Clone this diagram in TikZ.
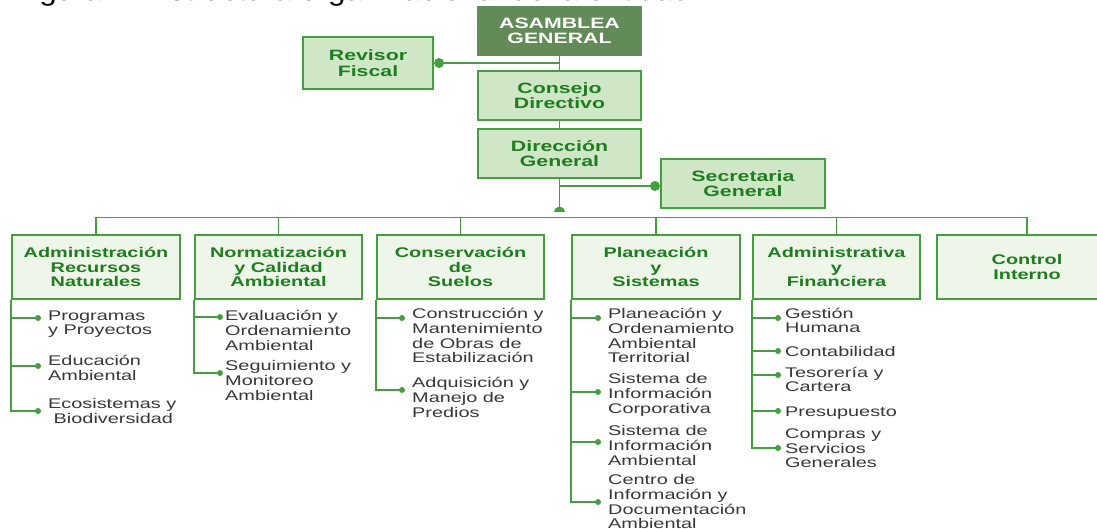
\documentclass[tikz,border=0pt]{standalone}
\usepackage{fontspec}
\setmainfont{Liberation Sans}[FakeStretch=1.42]
\newfontfamily\titlefont{Liberation Sans}[FakeStretch=1.12]
\definecolor{lnG}{HTML}{44A03E}
\definecolor{txG}{HTML}{1E7D1E}
\definecolor{fillA}{HTML}{CFE6C7}
\definecolor{fillB}{HTML}{EEF6EA}
\definecolor{asam}{HTML}{628B58}
\definecolor{subT}{HTML}{383838}
\begin{document}
\begin{tikzpicture}[x=1pt,y=-1pt,
  topbox/.style={draw=lnG, line width=1.7pt, fill=fillA, text=txG,
    font=\bfseries\fontsize{15}{15.5}\selectfont, align=center, inner sep=0pt,
    minimum width=163pt, minimum height=49pt},
  unitbox/.style={draw=lnG, line width=1.7pt, fill=fillB, text=txG,
    font=\bfseries\fontsize{14}{14.3}\selectfont, align=center, inner sep=0pt,
    minimum width=167pt, minimum height=64pt},
  conn/.style={draw=lnG, line width=1.7pt},
  item/.style={anchor=north west, inner sep=0pt, align=left, text=subT,
    font=\fontsize{14}{14.3}\selectfont},
  bigdot/.style={circle, fill=lnG, inner sep=0pt, minimum size=10pt},
  smalldot/.style={circle, fill=lnG, inner sep=0pt, minimum size=6pt}
]
\useasboundingbox (0,0) rectangle (1097,529);
\fill[white] (0,0) rectangle (1097,529);
\clip (0,0) rectangle (1097,529);

% cut-off caption
\node[anchor=base west, inner sep=0pt, font=\titlefont\fontsize{28}{30}\selectfont] (title) at (13,0.5) {Figura 2. Estructura organizacional de la entidad};

% top boxes
\node[topbox, fill=asam, text=white, draw=asam, minimum height=48pt] (asam) at (559.5,31) {ASAMBLEA\\GENERAL};
\node[topbox, minimum width=130pt, minimum height=52pt] (rev) at (368,63) {Revisor\\Fiscal};
\node[topbox] (cons) at (559.5,95.5) {Consejo\\Directivo};
\node[topbox] (dir) at (559.5,153.5) {Dirección\\General};
\node[topbox, minimum width=164pt] (sec) at (743,183.5) {Secretaria\\General};

\draw[conn] (asam.south) -- (cons.north);
\coordinate (revdot) at (439,63);
\draw[conn] (asam.south |- revdot) -- (revdot);
\node[bigdot] at (revdot) {};
\draw[conn] (cons.south) -- (dir.north);

\coordinate (dome) at (559.5,212);
\coordinate (secdot) at (655,186);
\draw[conn] (dir.south) -- (dome);
\fill[lnG] (dome) ++(-5.5pt,0) arc[start angle=180, end angle=0, radius=5.5pt] -- cycle;
\draw[conn] (dir.south |- secdot) -- (secdot);
\node[bigdot] at (secdot) {};

% units
\node[unitbox, minimum width=168pt] (u1) at (96,267) {Administración\\Recursos\\Naturales};
\node[unitbox] (u2) at (278.5,267) {Normatización\\y Calidad\\Ambiental};
\node[unitbox] (u3) at (460.5,267) {Conservación\\de\\Suelos};
\node[unitbox, minimum width=168pt] (u4) at (656,267) {Planeación\\y\\Sistemas};
\node[unitbox] (u5) at (836.5,267) {Administrativa\\y\\Financiera};
\node[unitbox, minimum width=180pt] (u6) at (1027,267) {Control\\Interno};

\coordinate (bar) at (559.5,217.5);
\draw[conn] (u1.north) -- (u1.north |- bar) -| (u6.north);
\foreach \u in {u2,u3,u4,u5}{\draw[conn] (\u.north) -- (\u.north |- bar);}

% column 1
\node[item] (i11) at (48,310) {\strut Programas\\y Proyectos};
\node[item] (i12) at (48,355) {\strut Educación\\Ambiental};
\node[item] (i13) at (48,398) {\strut Ecosistemas y\\\ Biodiversidad};
\coordinate (c11) at (38,318); \coordinate (c12) at (38,366); \coordinate (c13) at (38,411);
\draw[conn] (u1.south west) |- (c13);
\foreach \c in {c11,c12}{\draw[conn] (u1.south west |- \c) -- (\c);}
\foreach \c in {c11,c12,c13}{\node[smalldot] at (\c) {};}

% column 2
\node[item] (i21) at (225,310) {\strut Evaluación y\\Ordenamiento\\Ambiental};
\node[item] (i22) at (225,360) {\strut Seguimiento y\\Monitoreo\\Ambiental};
\coordinate (c21) at (220,317); \coordinate (c22) at (220,373);
\draw[conn] (u2.south west) |- (c22);
\draw[conn] (u2.south west |- c21) -- (c21);
\foreach \c in {c21,c22}{\node[smalldot] at (\c) {};}

% column 3
\node[item] (i31) at (412,308) {\strut Construcción y\\Mantenimiento\\de Obras de\\Estabilización};
\node[item] (i32) at (412,377) {\strut Adquisición y\\Manejo de\\Predios};
\coordinate (c31) at (402,318); \coordinate (c32) at (402,390);
\draw[conn] (u3.south west) |- (c32);
\draw[conn] (u3.south west |- c31) -- (c31);
\foreach \c in {c31,c32}{\node[smalldot] at (\c) {};}

% column 4
\node[item] (i41) at (608,308) {\strut Planeación y\\Ordenamiento\\Ambiental\\Territorial};
\node[item] (i42) at (608,373) {\strut Sistema de\\Información\\Corporativa};
\node[item] (i43) at (608,425) {\strut Sistema de\\Información\\Ambiental};
\node[item] (i44) at (608,474) {\strut Centro de\\Información y\\Documentación\\Ambiental};
\coordinate (c41) at (598,318); \coordinate (c42) at (598,392);
\coordinate (c43) at (598,442); \coordinate (c44) at (598,502);
\draw[conn] (u4.south west) |- (c44);
\foreach \c in {c41,c42,c43}{\draw[conn] (u4.south west |- \c) -- (\c);}
\foreach \c in {c41,c42,c43,c44}{\node[smalldot] at (\c) {};}

% column 5
\node[item] (i51) at (785,308) {\strut Gestión\\Humana};
\node[item] (i52) at (785,346) {\strut Contabilidad};
\node[item] (i53) at (785,367) {\strut Tesorería y\\Cartera};
\node[item] (i54) at (785,406) {\strut Presupuesto};
\node[item] (i55) at (785,428) {\strut Compras y\\Servicios\\Generales};
\coordinate (c51) at (778,318); \coordinate (c52) at (778,351);
\coordinate (c53) at (778,375); \coordinate (c54) at (778,411);
\coordinate (c55) at (778,448);
\draw[conn] (u5.south west) |- (c55);
\foreach \c in {c51,c52,c53,c54}{\draw[conn] (u5.south west |- \c) -- (\c);}
\foreach \c in {c51,c52,c53,c54,c55}{\node[smalldot] at (\c) {};}
\end{tikzpicture}
\end{document}
